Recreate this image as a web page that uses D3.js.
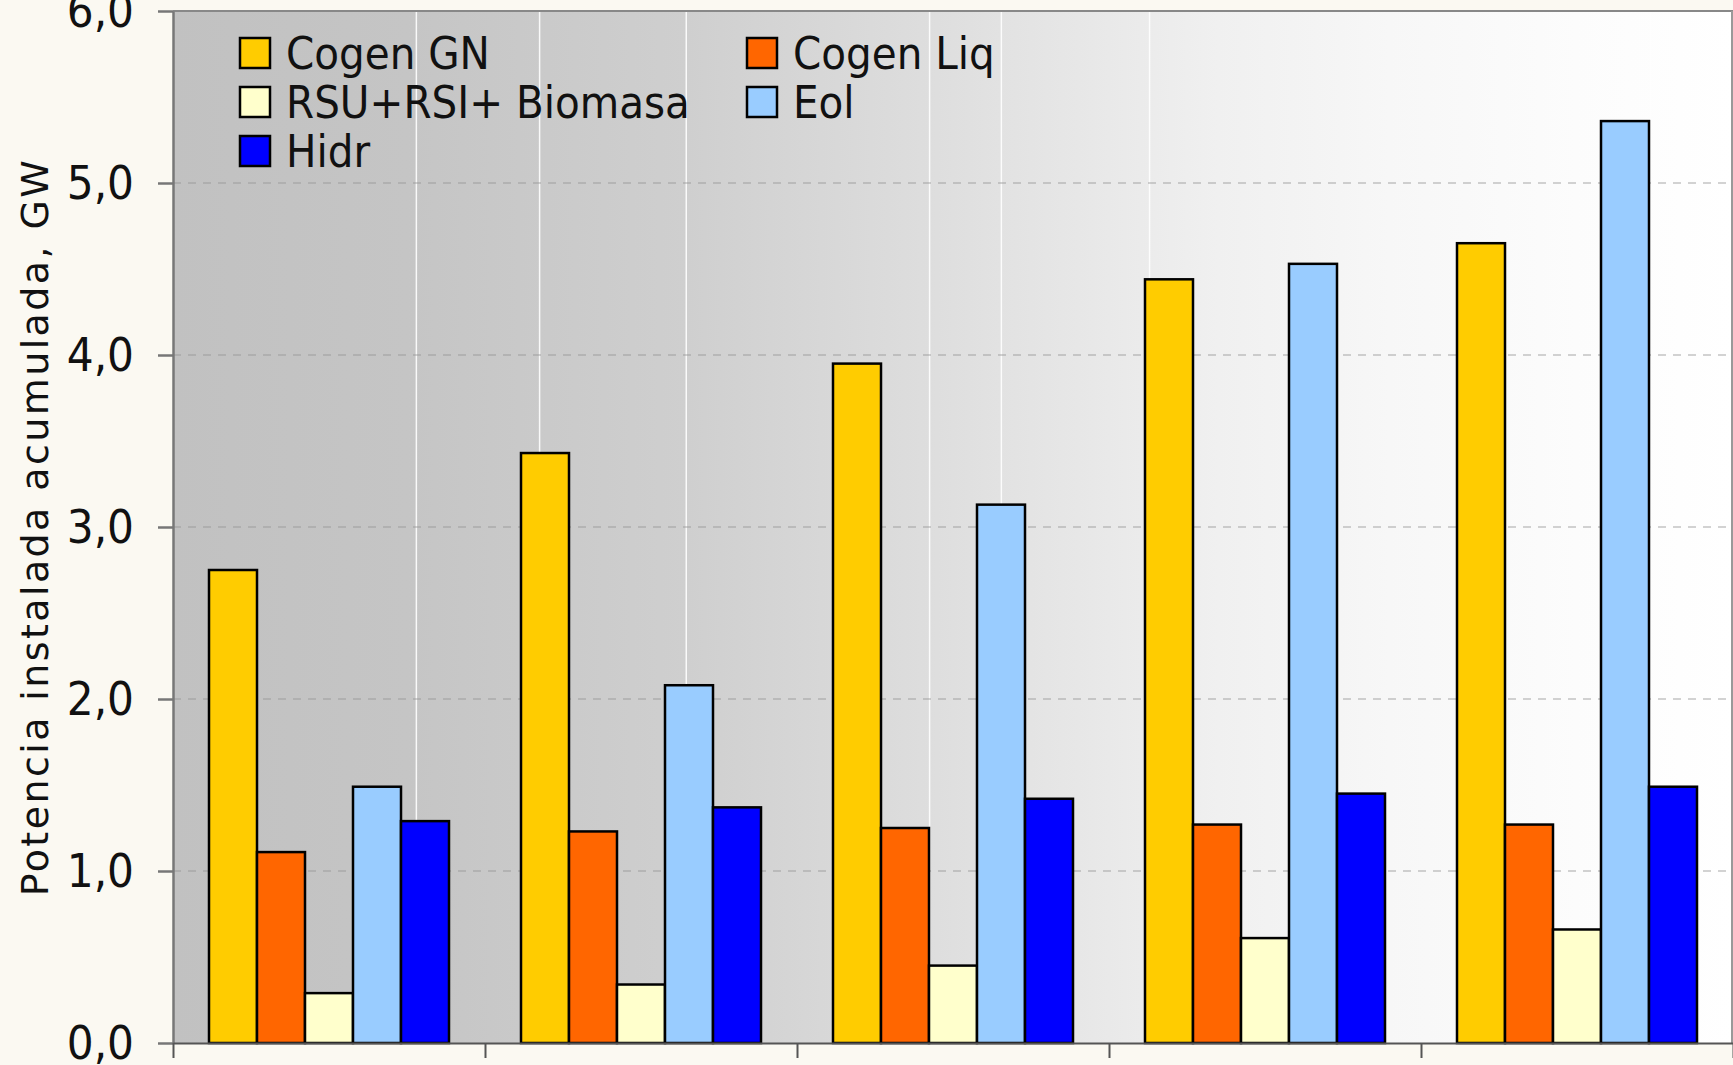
<!DOCTYPE html>
<html>
<head>
<meta charset="utf-8">
<script src="https://cdn.jsdelivr.net/npm/d3@7/dist/d3.min.js"></script>
<style>
  html, body { margin: 0; padding: 0; background: #fbf9f2; }
  svg { display: block; }
</style>
</head>
<body>
<svg id="chart" width="1733" height="1065"></svg>
<script>
// Installed capacity per period, GW
const categories = ["P1", "P2", "P3", "P4", "P5"];
const seriesNames = ["Cogen GN", "Cogen Liq", "RSU+RSI+ Biomasa", "Eol", "Hidr"];
const cogenGN    = [2.75, 3.43, 3.95, 4.44, 4.65];
const cogenLiq   = [1.11, 1.23, 1.25, 1.27, 1.27];
const rsuBiomasa = [0.29, 0.34, 0.45, 0.61, 0.66];
const eol        = [1.49, 2.08, 3.13, 4.53, 5.36];
const hidr       = [1.29, 1.37, 1.42, 1.45, 1.49];
const yTicks = [0, 1, 2, 3, 4, 5, 6];
const seriesColors = ["#ffcc00", "#ff6600", "#ffffcc", "#99ccff", "#0000ff"];

const seriesValues = [cogenGN, cogenLiq, rsuBiomasa, eol, hidr];
const rows = categories.map((c, i) => ({
  cat: c,
  vals: seriesNames.map((s, k) => ({ key: s, k, value: seriesValues[k][i] }))
}));

const svg = d3.select("#chart");
const W = 1733, H = 1065;
const margin = { left: 173, top: 11, right: 0, bottom: 22 };
const plotW = W - margin.left - margin.right;
const plotH = H - margin.top - margin.bottom;

const x0 = d3.scaleBand().domain(categories).range([0, plotW]).padding(0);
const x1 = d3.scaleBand().domain(seriesNames).range([0, x0.bandwidth()])
  .paddingInner(0).paddingOuter(0.75);
const y = d3.scaleLinear().domain([0, 6]).range([plotH, 0]);
const xEdges = d3.scaleLinear().domain([0, categories.length]).range([0, plotW]);

// Plot background: horizontal grey-to-white fade
const defs = svg.append("defs");
const grad = defs.append("linearGradient").attr("id", "bgGrad")
  .attr("x1", "0").attr("x2", "1").attr("y1", "0").attr("y2", "0");
[[0, "#c1c1c1"], [0.15, "#c5c5c5"], [0.33, "#cfcfcf"], [0.49, "#dedede"],
 [0.63, "#ececec"], [0.67, "#f0f0f0"], [0.78, "#f7f7f7"], [0.9, "#fcfcfc"], [1, "#ffffff"]]
  .forEach(([o, c]) => grad.append("stop").attr("offset", o).attr("stop-color", c));

const g = svg.append("g").attr("transform", `translate(${margin.left},${margin.top})`);

g.append("rect").attr("width", plotW).attr("height", plotH).attr("fill", "url(#bgGrad)");

// faint band seams in the fill
const seams = [0.156, 0.235, 0.329, 0.485, 0.531, 0.626, 0.947];
g.selectAll("line.seam").data(seams).join("line")
  .attr("class", "seam")
  .attr("x1", d => d * plotW).attr("x2", d => d * plotW)
  .attr("y1", 0).attr("y2", plotH)
  .attr("stroke", "#ffffff").attr("stroke-width", 1.5).attr("opacity", 0.9);

// dashed horizontal gridlines
g.selectAll("line.grid").data(yTicks.filter(t => t > 0 && t < 6)).join("line")
  .attr("class", "grid")
  .attr("x1", 0).attr("x2", plotW)
  .attr("y1", d => y(d)).attr("y2", d => y(d))
  .attr("stroke", "#959595").attr("stroke-opacity", 0.55)
  .attr("stroke-width", 1.5).attr("stroke-dasharray", "8,7");

// bars
const groups = g.selectAll("g.cat").data(rows).join("g")
  .attr("class", "cat")
  .attr("transform", d => `translate(${x0(d.cat)},0)`);
groups.selectAll("rect").data(d => d.vals).join("rect")
  .attr("x", d => x1(d.key))
  .attr("width", x1.bandwidth())
  .attr("y", d => y(d.value))
  .attr("height", d => y(0) - y(d.value))
  .attr("fill", d => seriesColors[d.k])
  .attr("stroke", "#000").attr("stroke-width", 2.5);

// frame: top and right edges
g.append("line").attr("x1", 0).attr("x2", plotW).attr("y1", 0).attr("y2", 0)
  .attr("stroke", "#888").attr("stroke-width", 2);
g.append("line").attr("x1", plotW - 1).attr("x2", plotW - 1).attr("y1", 0).attr("y2", plotH)
  .attr("stroke", "#999").attr("stroke-width", 2);

// y axis
const fmt = d => d3.format(".1f")(d).replace(".", ",");
const yAxis = g.append("g")
  .call(d3.axisLeft(y).tickValues(yTicks).tickFormat(fmt).tickSize(15).tickSizeOuter(0).tickPadding(24));
yAxis.select(".domain").attr("stroke", "#777").attr("stroke-width", 2.5);
yAxis.selectAll(".tick line").attr("stroke", "#777").attr("stroke-width", 2.5);
yAxis.selectAll(".tick text")
  .attr("font-family", "'Liberation Sans Narrow', 'DejaVu Sans Condensed', sans-serif")
  .attr("font-size", 47).attr("fill", "#111");

// x axis: category boundary ticks
const xAxis = g.append("g").attr("transform", `translate(0,${plotH})`)
  .call(d3.axisBottom(xEdges).tickValues(d3.range(categories.length + 1)).tickFormat("").tickSize(15).tickSizeOuter(0));
xAxis.select(".domain").attr("stroke", "#555").attr("stroke-width", 2);
xAxis.selectAll(".tick line").attr("stroke", "#555").attr("stroke-width", 2);

// y axis title
svg.append("text")
  .attr("transform", `translate(48,${margin.top + plotH / 2}) rotate(-90)`)
  .attr("text-anchor", "middle")
  .attr("font-family", "'DejaVu Sans', sans-serif")
  .attr("font-size", 38).attr("letter-spacing", 2.4).attr("fill", "#111")
  .text("Potencia instalada acumulada, GW");

// legend, two columns
const legend = svg.append("g");
const colX = [239, 746], rowY0 = 37, rowStep = 49, sw = 32;
seriesNames.forEach((name, k) => {
  const cx = colX[k % 2], cy = rowY0 + Math.floor(k / 2) * rowStep;
  legend.append("rect").attr("x", cx + 1).attr("y", cy + 1)
    .attr("width", sw - 2).attr("height", sw - 2)
    .attr("fill", seriesColors[k]).attr("stroke", "#000").attr("stroke-width", 2.5);
  legend.append("text").attr("x", cx + 47).attr("y", cy + sw / 2)
    .attr("dominant-baseline", "central")
    .attr("font-family", "'DejaVu Sans Condensed', 'DejaVu Sans', sans-serif")
    .attr("font-stretch", "condensed")
    .attr("font-size", 45).attr("fill", "#111")
    .text(name);
});
</script>
</body>
</html>
